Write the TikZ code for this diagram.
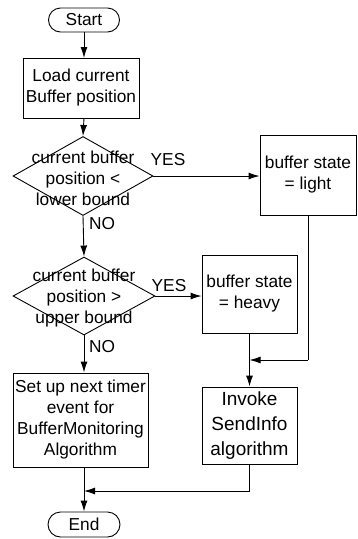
\documentclass[tikz,border=0pt]{standalone}
\usepackage{fontspec}
\setmainfont{Liberation Sans}
\usetikzlibrary{shapes.geometric,shapes.misc,arrows.meta}
\begin{document}
\begin{tikzpicture}[x=1pt,y=-1pt,
  every node/.style={font=\fontsize{17.3}{21}\selectfont},
  proc/.style={draw, line width=0.9pt, align=center, inner sep=0pt},
  term/.style={draw, rounded rectangle, line width=0.9pt, minimum width=71pt, minimum height=24pt, inner sep=0pt},
  dec/.style={draw, diamond, line width=0.9pt, minimum width=140pt, minimum height=79pt, inner sep=0pt},
  txt/.style={align=center, inner sep=0pt},
  conn/.style={line width=0.9pt, -{Latex[length=11pt,width=7pt]}},
  plainline/.style={line width=0.9pt},
  lbl/.style={inner sep=0pt}]
\useasboundingbox (0,0) rectangle (358,539);

\node[term] (start) at (84,20) {Start};
\node[proc, minimum width=116pt, minimum height=60pt] (load) at (81,88) {Load current\\Buffer position};
\node[dec] (d1) at (83,176) {};
\node[txt] (d1t) at (83,178) {current buffer\\position <\\lower bound};
\node[proc, minimum width=96pt, minimum height=80pt] (light) at (308,175) {buffer state\\= light};
\node[dec, minimum width=142pt, minimum height=78pt] (d2) at (84,296) {};
\node[txt] (d2t) at (84,298) {current buffer\\position >\\upper bound};
\node[proc, minimum width=95pt, minimum height=78pt] (heavy) at (249.5,294) {buffer state\\= heavy};
\node[proc, minimum width=135pt, minimum height=94pt] (setup) at (80.5,420) {Set up next timer\\event for\\BufferMonitoring\\Algorithm};
\node[proc, minimum width=95pt, minimum height=77pt, font=\fontsize{19}{25}\selectfont] (invoke) at (249.5,425.5) {Invoke\\SendInfo\\algorithm};
\node[term, minimum width=72pt, minimum height=25pt] (end) at (84,524.5) {End};

\node[lbl] (yes1) at (168,160) {YES};
\node[lbl] (yes2) at (169,286) {YES};
\node[lbl] (no1) at (102,224) {NO};
\node[lbl] (no2) at (102,347) {NO};

\coordinate (j1) at (heavy.south |- 0,360);
\coordinate (j2) at (84,491);

\draw[conn] (start.south -| 84,0) -- (84,58);
\draw[conn] (84,118) -- (d1.north);
\draw[conn] (d1.east) -- (light.west |- d1.east);
\draw[conn] (d1.south) -- (d2.north);
\draw[conn] (d2.east) -- (heavy.west |- d2.east);
\draw[conn] (d2.south) -- (d2.south |- setup.north);
\draw[conn] (d2.south |- setup.south) -- (end.north);
\draw[conn] (heavy.south) -- (invoke.north);
\draw[plainline] (light.south) -- (light.south |- j1);
\draw[conn] (light.south |- j1) -- (j1);
\draw[plainline] (invoke.south) -- (invoke.south |- j2);
\draw[conn] (invoke.south |- j2) -- (j2);
\end{tikzpicture}
\end{document}
